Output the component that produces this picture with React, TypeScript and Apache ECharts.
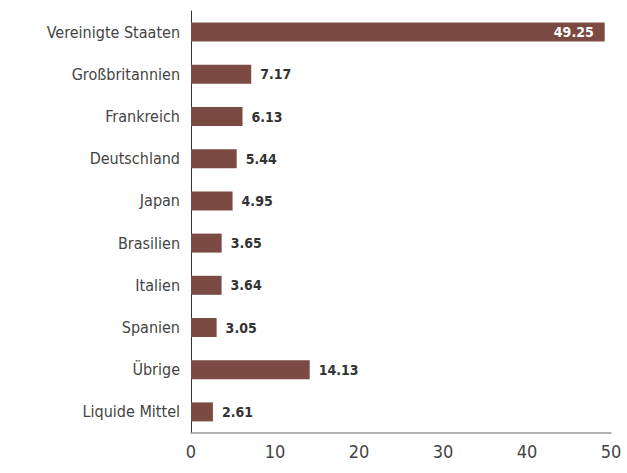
import React, { useEffect, useRef } from "react";
import * as echarts from "echarts";

const categories = [
  "Vereinigte Staaten",
  "Großbritannien",
  "Frankreich",
  "Deutschland",
  "Japan",
  "Brasilien",
  "Italien",
  "Spanien",
  "Übrige",
  "Liquide Mittel",
];
const values = [49.25, 7.17, 6.13, 5.44, 4.95, 3.65, 3.64, 3.05, 14.13, 2.61];
const xTicks = [0, 10, 20, 30, 40, 50];

const FONT = "'DejaVu Sans Condensed', 'Liberation Sans Narrow', sans-serif";

export default function App() {
  const ref = useRef<HTMLDivElement>(null);
  useEffect(() => {
    if (!ref.current) return;
    const chart = echarts.init(ref.current, undefined, { renderer: "svg" });
    const maxV = Math.max(...values);
    chart.setOption({
      animation: false,
      grid: { left: 191, right: 16, top: 11, bottom: 40, containLabel: false },
      xAxis: {
        type: "value",
        min: xTicks[0],
        max: xTicks[xTicks.length - 1],
        interval: 10,
        axisLine: { show: true, lineStyle: { color: "#9a9a9a", width: 1.5 } },
        axisTick: { show: false },
        splitLine: { show: false },
        axisLabel: { color: "#444", fontFamily: FONT, fontSize: 18, margin: 9 },
      },
      yAxis: {
        type: "category",
        inverse: true,
        data: categories,
        axisLine: { show: true, lineStyle: { color: "#333", width: 1 } },
        axisTick: { show: false },
        axisLabel: { color: "#444", fontFamily: FONT, fontSize: 16, margin: 11 },
      },
      series: [
        {
          type: "bar",
          data: values.map((v) => ({
            value: v,
            label:
              v === maxV
                ? { position: "insideRight", color: "#fff", distance: 11 }
                : { position: "right", color: "#333", distance: 9 },
          })),
          barWidth: 19,
          itemStyle: { color: "#7B4A42" },
          label: {
            show: true,
            fontFamily: FONT,
            fontSize: 14,
            fontWeight: "bold",
            formatter: (p: any) => p.value.toFixed(2),
          },
        },
      ],
    });
    return () => chart.dispose();
  }, []);
  return <div ref={ref} style={{ width: 627, height: 473, position: "absolute", left: 0, top: 0 }} />;
}
